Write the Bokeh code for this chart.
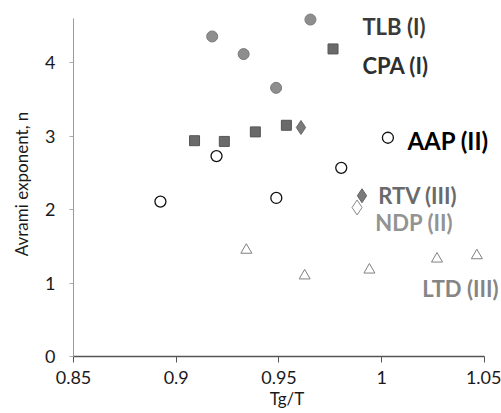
from bokeh.plotting import figure
from bokeh.models import Range1d, FixedTicker, Label
from bokeh.embed import file_html
from bokeh.resources import INLINE

# ---- data ----
tlb_x = [0.9175, 0.9328, 0.9486, 0.9653]
tlb_y = [4.36, 4.12, 3.66, 4.59]
cpa_x = [0.9089, 0.9234, 0.9385, 0.9536, 0.9763]
cpa_y = [2.94, 2.93, 3.06, 3.15, 4.19]
rtv_x = [0.9607, 0.9904]
rtv_y = [3.12, 2.19]
ndp_x = [0.988]
ndp_y = [2.03]
aap_x = [0.8923, 0.9196, 0.9487, 0.9803]
aap_y = [2.11, 2.73, 2.16, 2.57]
ltd_x = [0.9341, 0.9625, 0.994, 1.0269, 1.0463]
ltd_y = [1.45, 1.10, 1.18, 1.33, 1.375]

x_ticks = [0.85, 0.9, 0.95, 1.0, 1.05]
x_tick_labels = ["0.85", "0.9", "0.95", "1", "1.05"]
y_ticks = [0, 1, 2, 3, 4]

labels = ["TLB (I)", "CPA (I)", "AAP (II)", "RTV (III)", "NDP (II)", "LTD (III)"]
label_x = [0.9906, 0.9906, 1.0125, 0.9983, 0.9969, 1.0197]
label_y = [4.49, 3.96, 2.945, 2.19, 1.83, 0.92]
aap_key_x = [1.003]
aap_key_y = [2.98]

FONT = "Lato"

p = figure(width=501, height=413, output_backend="svg", toolbar_location=None,
           x_range=Range1d(0.85, 1.0578), y_range=Range1d(0, 4.7),
           min_border_left=73, min_border_right=1, min_border_top=11, min_border_bottom=57)
p.outline_line_color = None
p.xgrid.visible = False
p.ygrid.visible = False
p.background_fill_color = "white"

# x axis
xa = p.xaxis[0]
xa.ticker = FixedTicker(ticks=x_ticks)
xa.bounds = (0.85, 1.05)
xa.major_label_overrides = {t: l for t, l in zip(x_ticks, x_tick_labels)}
xa.minor_tick_line_color = None
xa.major_tick_out = 6
xa.major_tick_in = 0
xa.major_label_standoff = 8
xa.axis_line_color = "#555555"
xa.axis_line_width = 1.5
xa.major_tick_line_color = "#555555"
xa.major_label_text_font = FONT
xa.major_label_text_font_size = "18px"
xa.major_label_text_color = "#1a1a1a"
xa.axis_label = "Tg/T"
xa.axis_label_text_font = FONT
xa.axis_label_text_font_size = "17px"
xa.axis_label_text_font_style = "normal"
xa.axis_label_text_color = "#1a1a1a"
xa.axis_label_standoff = 1

# y axis
ya = p.yaxis[0]
ya.ticker = FixedTicker(ticks=y_ticks)
ya.bounds = (0, 4.6)
ya.minor_tick_line_color = None
ya.major_tick_out = 4
ya.major_tick_in = 0
ya.major_tick_line_color = "#aaaaaa"
ya.axis_line_color = "#9a9a9a"
ya.axis_line_width = 1
ya.major_label_standoff = 14
ya.major_label_text_font = FONT
ya.major_label_text_font_size = "18px"
ya.major_label_text_color = "#1a1a1a"
ya.axis_label = "Avrami exponent, n"
ya.axis_label_text_font = FONT
ya.axis_label_text_font_size = "17px"
ya.axis_label_text_font_style = "normal"
ya.axis_label_text_color = "#1a1a1a"
ya.axis_label_standoff = 10

# markers
p.scatter(ltd_x, ltd_y, marker="triangle", size=11, fill_color="white",
          line_color="#808080", line_width=1)
p.scatter(aap_x, aap_y, marker="circle", size=11, fill_color="white",
          line_color="#111111", line_width=1.3)
p.scatter(aap_key_x, aap_key_y, marker="circle", size=11, fill_color="white",
          line_color="#111111", line_width=1.3)
p.scatter(ndp_x, ndp_y, marker="diamond", size=15, fill_color="white",
          line_color="#8a8a8a", line_width=1)
p.scatter(tlb_x, tlb_y, marker="circle", size=11, fill_color="#8e8e8e",
          line_color="#7a7a7a", line_width=1)
p.scatter(cpa_x, cpa_y, marker="square", size=10, fill_color="#6a6a6a",
          line_color="#555555", line_width=1)
p.scatter(rtv_x, rtv_y, marker="diamond", size=14, fill_color="#7a7a7a",
          line_color="#666666", line_width=1)

styles = [
    ("#3a3a3a", "bold", "22px"),
    ("#2e2e2e", "bold", "22px"),
    ("#000000", "bold", "24px"),
    ("#6a6a6a", "bold", "22px"),
    ("#939393", "bold", "22px"),
    ("#858585", "bold", "22px"),
]
for txt, lx, ly, (col, wt, fs) in zip(labels, label_x, label_y, styles):
    p.add_layout(Label(x=lx, y=ly, text=txt, text_font=FONT, text_font_size=fs,
                       text_font_style=wt, text_color=col,
                       text_align="left", text_baseline="middle"))

open("out.html", "w").write(file_html(p, INLINE))
